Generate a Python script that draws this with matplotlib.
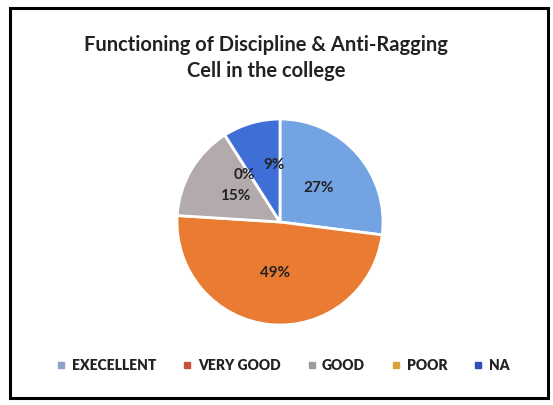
import matplotlib.pyplot as plt
from matplotlib.patches import Rectangle
from matplotlib.lines import Line2D

plt.rcParams['font.family'] = ['Lato', 'DejaVu Sans']

categories = ['EXECELLENT', 'VERY GOOD', 'GOOD', 'POOR', 'NA']
values = [27, 49, 15, 0, 9]
pie_colors = ['#74a3e3', '#e97b32', '#b3abab', '#d9a13e', '#3f6fd6']
legend_colors = ['#8ea3c7', '#c8503f', '#9c9c9c', '#d9a13e', '#2f50b8']

fig = plt.figure(figsize=(5.53, 4.05), dpi=100)
fig.patch.set_facecolor('white')

# black frame round the chart
fig.add_artist(Rectangle((10 / 553, 7 / 405), 538 / 553, 390 / 405,
                         transform=fig.transFigure, fill=False,
                         edgecolor='black', linewidth=2.2))

fig.text(266 / 553, 1 - 58 / 405,
         'Functioning of Discipline & Anti-Ragging\nCell in the college',
         ha='center', va='center', fontsize=14.5, fontweight='bold',
         linespacing=1.4, color='#222222')

ax = fig.add_axes([177 / 553, 1 - 325 / 405, 206 / 553, 206 / 405])
wedges, texts, autotexts = ax.pie(
    values, colors=pie_colors, startangle=90, counterclock=False,
    autopct=lambda p: f'{p:.0f}%', pctdistance=0.5,
    wedgeprops=dict(edgecolor='white', linewidth=2))
for t in autotexts:
    t.set_fontsize(11)
    t.set_fontweight('bold')
    t.set_color('#222222')
# the 0% and 9% labels crowd each other, pull them apart a little
x, y = autotexts[3].get_position()
autotexts[3].set_position((x - 0.08, y + 0.03))
x, y = autotexts[4].get_position()
autotexts[4].set_position((x + 0.08, y + 0.07))
ax.set_xlim(-1, 1)
ax.set_ylim(-1, 1)
ax.set_aspect('equal')

handles = [Line2D([0], [0], marker='s', linestyle='', markersize=4,
                  markerfacecolor=c, markeredgecolor=c) for c in legend_colors]
leg = fig.legend(handles, categories, loc='center', bbox_to_anchor=(283 / 553, 1 - 365 / 405),
                 ncol=5, frameon=False, handlelength=0.7, handletextpad=0.4,
                 columnspacing=1.9, fontsize=10)
for t in leg.get_texts():
    t.set_fontweight('heavy')
    t.set_color('#222222')

fig.savefig('out.png', dpi=100)
